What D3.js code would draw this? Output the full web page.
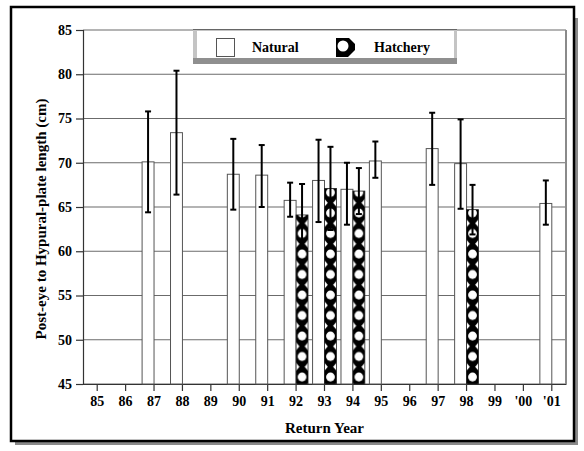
<!DOCTYPE html>
<html>
<head>
<meta charset="utf-8">
<script src="https://cdn.jsdelivr.net/npm/d3@7"></script>
<style>
  html, body { margin: 0; padding: 0; background: #fff; }
  svg { display: block; }
  text { font-family: "Liberation Serif", "Times New Roman", serif; font-weight: bold; fill: #000; }
</style>
</head>
<body>
<svg id="chart" width="584" height="451"></svg>
<script>
// Return years shown on the x axis
const years = ["85", "86", "87", "88", "89", "90", "91", "92", "93", "94", "95", "96", "97", "98", "99", "'00", "'01"];

// Natural-origin fish: mean length and error-bar limits (cm); null = no sample
const naturalMean  = [null, null, 70.1, 73.4, null, 68.7, 68.6, 65.75, 68.0, 67.0, 70.2, null, 71.6, 69.9, null, null, 65.4];
const naturalUpper = [null, null, 75.8, 80.4, null, 72.7, 72.0, 67.75, 72.6, 70.0, 72.4, null, 75.65, 74.9, null, null, 68.0];
const naturalLower = [null, null, 64.4, 66.4, null, 64.7, 65.0, 63.9, 63.3, 63.0, 68.3, null, 67.5, 64.8, null, null, 63.0];

// Hatchery-origin fish
const hatcheryMean  = [null, null, null, null, null, null, null, 64.1, 67.1, 66.8, null, null, null, 64.7, null, null, null];
const hatcheryUpper = [null, null, null, null, null, null, null, 67.6, 71.8, 69.4, null, null, null, 67.5, null, null, null];
const hatcheryLower = [null, null, null, null, null, null, null, 60.4, 62.4, 64.2, null, null, null, 61.9, null, null, null];

const yTicks = [45, 50, 55, 60, 65, 70, 75, 80, 85];

const svg = d3.select("#chart");
const plot = { left: 83, right: 566, top: 30, bottom: 384 };
const FONT = "'Liberation Serif', 'Times New Roman', serif";

const x = d3.scaleBand().domain(years).range([plot.left, plot.right]).paddingInner(0).paddingOuter(0);
const y = d3.scaleLinear().domain([45, 85]).range([plot.bottom, plot.top]);
const step = x.step();
const barW = step * 0.42;
const center = d => x(d) + step / 2;

// Hatchery fill pattern: black with large white dots and edge notches
const defs = svg.append("defs");
const ph = 20.5;
const pat = defs.append("pattern")
  .attr("id", "hatch")
  .attr("patternUnits", "userSpaceOnUse")
  .attr("width", step)
  .attr("height", ph)
  .attr("x", plot.left + barW / 2)
  .attr("y", 3);
pat.append("rect").attr("width", step).attr("height", ph).attr("fill", "#000");
const pc = step / 2;
pat.append("circle").attr("cx", pc).attr("cy", 5).attr("r", 4.4).attr("fill", "#fff");
pat.append("path").attr("d", `M${pc - 6.5},10.8 L${pc - 2.6},15.3 L${pc - 6.5},19.8 Z`).attr("fill", "#fff");
pat.append("path").attr("d", `M${pc + 6.5},10.8 L${pc + 2.6},15.3 L${pc + 6.5},19.8 Z`).attr("fill", "#fff");

// Outer frame with drop shadow
svg.append("rect").attr("x", 15).attr("y", 18).attr("width", 563).attr("height", 427).attr("fill", "#8a8a8a");
svg.append("rect").attr("x", 11).attr("y", 7).attr("width", 563).attr("height", 434)
  .attr("fill", "#fff").attr("stroke", "#000").attr("stroke-width", 2.5);

// Horizontal grid lines
svg.append("g").selectAll("line").data(yTicks).join("line")
  .attr("x1", plot.left).attr("x2", plot.right)
  .attr("y1", d => y(d)).attr("y2", d => y(d))
  .attr("stroke", "#6b6b6b").attr("stroke-width", 1.2);

// Right edge of plot area
svg.append("line").attr("x1", plot.right).attr("x2", plot.right)
  .attr("y1", plot.top).attr("y2", plot.bottom)
  .attr("stroke", "#8a8a8a").attr("stroke-width", 2);

// Y axis
const yAxis = d3.axisLeft(y).tickValues(yTicks).tickSize(7).tickPadding(4).tickFormat(d3.format("d"));
const gy = svg.append("g").attr("transform", `translate(${plot.left},0)`).call(yAxis);
gy.select(".domain").attr("stroke", "#333").attr("stroke-width", 1.2);
gy.selectAll(".tick line").attr("stroke", "#333").attr("stroke-width", 1.2);
gy.selectAll(".tick text").style("font-size", "14px").style("font-family", FONT).style("font-weight", "bold");

// X axis
const xAxis = d3.axisBottom(x).tickSize(7).tickPadding(5).tickSizeOuter(0);
const gx = svg.append("g").attr("transform", `translate(0,${plot.bottom})`).call(xAxis);
gx.select(".domain").attr("stroke", "#333").attr("stroke-width", 1.2);
gx.selectAll(".tick line").attr("stroke", "#333").attr("stroke-width", 1.2);
gx.selectAll(".tick text").style("font-size", "14px").style("font-family", FONT).style("font-weight", "bold");

// Bars
const natural = years.map((yr, i) => ({ yr, v: naturalMean[i], hi: naturalUpper[i], lo: naturalLower[i] })).filter(d => d.v != null);
const hatchery = years.map((yr, i) => ({ yr, v: hatcheryMean[i], hi: hatcheryUpper[i], lo: hatcheryLower[i] })).filter(d => d.v != null);

svg.append("g").selectAll("rect").data(natural).join("rect")
  .attr("x", d => center(d.yr) - barW)
  .attr("y", d => y(d.v))
  .attr("width", barW)
  .attr("height", d => y(45) - y(d.v))
  .attr("fill", "#fff").attr("stroke", "#555").attr("stroke-width", 1);

svg.append("g").selectAll("rect").data(hatchery).join("rect")
  .attr("x", d => center(d.yr))
  .attr("y", d => y(d.v))
  .attr("width", barW)
  .attr("height", d => y(45) - y(d.v))
  .attr("fill", "url(#hatch)").attr("stroke", "#222").attr("stroke-width", 0.8);

// Error bars
function errorBars(data, offset) {
  const g = svg.append("g").attr("stroke", "#000").attr("stroke-width", 2);
  data.forEach(d => {
    const cx = center(d.yr) + offset;
    g.append("line").attr("x1", cx).attr("x2", cx).attr("y1", y(d.hi)).attr("y2", y(d.lo));
    g.append("line").attr("x1", cx - 3).attr("x2", cx + 3).attr("y1", y(d.hi)).attr("y2", y(d.hi));
    g.append("line").attr("x1", cx - 3).attr("x2", cx + 3).attr("y1", y(d.lo)).attr("y2", y(d.lo));
  });
}
errorBars(natural, -barW / 2);
errorBars(hatchery, barW / 2);

// Axis titles
svg.append("text")
  .attr("x", (plot.left + plot.right) / 2).attr("y", 433)
  .attr("text-anchor", "middle").style("font-size", "15px")
  .text("Return Year");
svg.append("text")
  .attr("transform", `translate(46,${(plot.top + plot.bottom) / 2 + 12}) rotate(-90)`)
  .attr("text-anchor", "middle").style("font-size", "15px")
  .text("Post-eye to Hypural-plate length (cm)");

// Legend box with bevelled edge
const lg = svg.append("g");
lg.append("rect").attr("x", 193).attr("y", 29).attr("width", 264).attr("height", 35).attr("fill", "#c4c4c4");
lg.append("rect").attr("x", 193).attr("y", 58).attr("width", 264).attr("height", 6).attr("fill", "#8f8f8f");
lg.append("line").attr("x1", 193).attr("x2", 457).attr("y1", 29.5).attr("y2", 29.5).attr("stroke", "#666").attr("stroke-width", 1);
lg.append("rect").attr("x", 197).attr("y", 31).attr("width", 257).attr("height", 27).attr("fill", "#fff");

lg.append("rect").attr("x", 216.5).attr("y", 38.5).attr("width", 18).attr("height", 18)
  .attr("fill", "#fff").attr("stroke", "#555").attr("stroke-width", 1);
lg.append("text").attr("x", 252).attr("y", 52).style("font-size", "14px").text("Natural");

// Legend swatch for hatchery fill
const sw = lg.append("g").attr("transform", "translate(336,38)");
sw.append("rect").attr("width", 19).attr("height", 19).attr("fill", "#000");
sw.append("circle").attr("cx", 7).attr("cy", 8).attr("r", 5.5).attr("fill", "#fff");
sw.append("path").attr("d", "M19,0 L13,0 L19,6 Z").attr("fill", "#fff");
sw.append("path").attr("d", "M19,19 L19,12 L12,19 Z").attr("fill", "#fff");
lg.append("text").attr("x", 374).attr("y", 52).style("font-size", "14px").text("Hatchery");
</script>
</body>
</html>
